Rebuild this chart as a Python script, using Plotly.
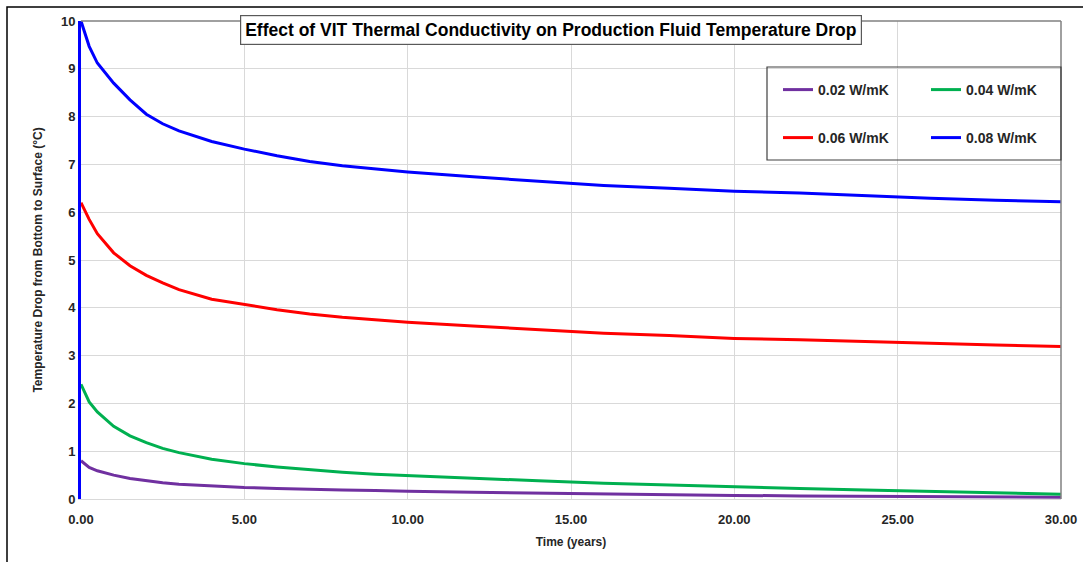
import plotly.graph_objects as go

time_years = [0, 0.25, 0.5, 1, 1.5, 2, 2.5, 3, 4, 5, 6, 7, 8, 9, 10, 12, 14, 16, 18, 20, 22, 24, 26, 28, 30]
k002 = [0.80, 0.66, 0.59, 0.50, 0.43, 0.38, 0.34, 0.31, 0.27, 0.24, 0.22, 0.20, 0.19, 0.18, 0.16,
        0.14, 0.12, 0.10, 0.09, 0.075, 0.065, 0.055, 0.05, 0.04, 0.035]
k004 = [2.40, 2.03, 1.82, 1.52, 1.32, 1.18, 1.06, 0.97, 0.83, 0.74, 0.67, 0.61, 0.56, 0.52, 0.49,
        0.43, 0.38, 0.33, 0.29, 0.25, 0.22, 0.19, 0.16, 0.13, 0.10]
k006 = [6.20, 5.85, 5.55, 5.15, 4.88, 4.68, 4.52, 4.38, 4.18, 4.07, 3.96, 3.87, 3.80, 3.75, 3.70,
        3.62, 3.54, 3.47, 3.42, 3.36, 3.33, 3.29, 3.26, 3.22, 3.19]
k008 = [10.0, 9.47, 9.12, 8.70, 8.35, 8.05, 7.85, 7.70, 7.48, 7.32, 7.18, 7.06, 6.97, 6.90, 6.84,
        6.74, 6.65, 6.56, 6.50, 6.44, 6.40, 6.34, 6.29, 6.25, 6.22]

series_names = ["0.02 W/mK", "0.04 W/mK", "0.06 W/mK", "0.08 W/mK"]
series_vals = [k002, k004, k006, k008]
colors = ["#7030A0", "#00B050", "#FF0000", "#0000FF"]
legend_ids = ["legend", "legend2", "legend3", "legend4"]

title_text = "Effect of VIT Thermal Conductivity on Production Fluid Temperature Drop"
x_title = "Time (years)"
y_title = "Temperature Drop from Bottom to Surface (°C)"

fig = go.Figure()
for name, vals, col, lg in zip(series_names, series_vals, colors, legend_ids):
    fig.add_trace(go.Scatter(x=time_years, y=vals, mode="lines", name=name, showlegend=True,
                             line=dict(color=col, width=3), legend=lg))

FONT = "Liberation Sans, Arial, sans-serif"
legend_font = dict(family=FONT, size=14, color="#262626", weight="bold")
W, H = 1083, 562
ml, mr, mt, mb = 81, 22, 21, 63
pw, ph = W - ml - mr, H - mt - mb

def px(x):
    return (x - ml) / pw

def py(y):
    return (H - mb - y) / ph

legend_pos = {"legend": (778, 90), "legend2": (926, 90), "legend3": (778, 138), "legend4": (926, 138)}
legend_layout = {}
for lid, (lx, ly) in legend_pos.items():
    legend_layout[lid] = dict(x=px(lx), y=py(ly), xanchor="left", yanchor="middle",
                              font=legend_font, bgcolor="rgba(0,0,0,0)", itemwidth=30)

fig.update_layout(
    width=W, height=H,
    showlegend=True,
    margin=dict(l=ml, r=mr, t=mt, b=mb, autoexpand=False),
    paper_bgcolor="white", plot_bgcolor="white",
    font=dict(family=FONT, color="#262626"),
    **legend_layout,
    xaxis=dict(range=[0, 30], dtick=5, tickformat=".2f", showgrid=True, gridcolor="#D9D9D9",
               gridwidth=1, zeroline=False, showline=True, linecolor="#D9D9D9", linewidth=1,
               ticks="", ticklabelstandoff=8,
               tickfont=dict(size=13, family=FONT, color="#262626", weight="bold"),
               title=dict(text="<b>" + x_title + "</b>", font=dict(size=12), standoff=12)),
    yaxis=dict(range=[0, 10], dtick=1, showgrid=True, gridcolor="#D9D9D9", gridwidth=1,
               zeroline=False, showline=True, linecolor="#0000FF", linewidth=3, ticks="",
               tickfont=dict(size=13, family=FONT, color="#262626", weight="bold"),
               title=dict(text="<b>" + y_title + "</b>", font=dict(size=12), standoff=16)),
    shapes=[
        dict(type="line", xref="paper", yref="paper", x0=0, x1=1, y0=1, y1=1,
             line=dict(color="#808080", width=1.5)),
        dict(type="line", xref="paper", yref="paper", x0=1, x1=1, y0=0, y1=1,
             line=dict(color="#808080", width=1.5)),
        dict(type="rect", xref="paper", yref="paper", x0=px(767), x1=px(1061), y0=py(160), y1=py(67),
             line=dict(color="#404040", width=1.2), fillcolor="rgba(255,255,255,0)"),
        dict(type="rect", xref="paper", yref="paper", x0=px(7), x1=px(1100), y0=py(580), y1=py(7),
             line=dict(color="#000000", width=1.5), fillcolor="rgba(0,0,0,0)", layer="above"),
    ],
    annotations=[
        dict(text="<b>" + title_text + "</b>", xref="paper", yref="paper", x=px(551), y=py(30),
             xanchor="center", yanchor="middle", showarrow=False,
             font=dict(family=FONT, size=17.5, color="#000000"),
             bgcolor="white", bordercolor="#595959", borderwidth=1.2, borderpad=4),
    ],
)

fig.write_html("out.html", config={"displayModeBar": False},
               post_script="document.body.style.margin='0';document.body.style.overflow='hidden';")
